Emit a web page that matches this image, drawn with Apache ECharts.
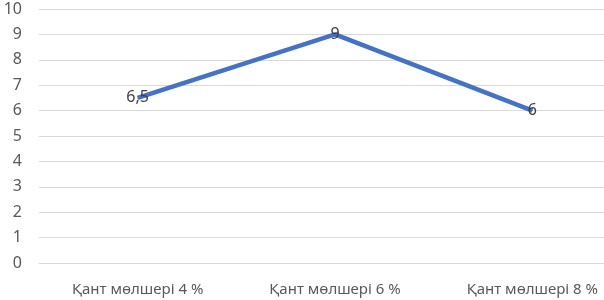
<!DOCTYPE html>
<html>
<head>
<meta charset="utf-8">
<script src="https://cdn.jsdelivr.net/npm/echarts@6/dist/echarts.min.js"></script>
<style>html,body{margin:0;padding:0;background:#fff;overflow:hidden;width:604px;height:300px}#c{width:631px;height:300px}</style>
</head>
<body>
<div id="c"></div>
<script>
const categories = ['Қант мөлшері 4 %', 'Қант мөлшері 6 %', 'Қант мөлшері 8 %'];
const values = [6.5, 9, 6];
const yTicks = { min: 0, max: 10, interval: 1 };

const chart = echarts.init(document.getElementById('c'), null, { renderer: 'canvas' });
chart.setOption({
  animation: false,
  grid: { left: 39, right: 0, top: 9, bottom: 37, containLabel: false },
  xAxis: {
    type: 'category',
    data: categories,
    boundaryGap: true,
    axisLine: { show: true, lineStyle: { color: '#d9d9d9', width: 1 } },
    axisTick: { show: false },
    axisLabel: { color: '#595959', fontFamily: 'Noto Sans', fontSize: 15, margin: 19 }
  },
  yAxis: {
    type: 'value',
    min: yTicks.min, max: yTicks.max, interval: yTicks.interval,
    axisLine: { show: false },
    axisTick: { show: false },
    splitLine: { lineStyle: { color: '#d9d9d9', width: 1 } },
    axisLabel: { color: '#595959', fontFamily: 'Noto Sans', fontSize: 16, margin: 17 }
  },
  series: [{
    type: 'line',
    data: values,
    symbol: 'circle',
    symbolSize: 1,
    showSymbol: true,
    itemStyle: { color: '#4472C4' },
    lineStyle: { color: '#4472C4', width: 4.5 },
    label: {
      show: true,
      position: 'inside',
      color: '#404040',
      fontFamily: 'Noto Sans',
      fontSize: 16,
      formatter: p => String(p.value).replace('.', ',')
    }
  }]
});
</script>
</body>
</html>
